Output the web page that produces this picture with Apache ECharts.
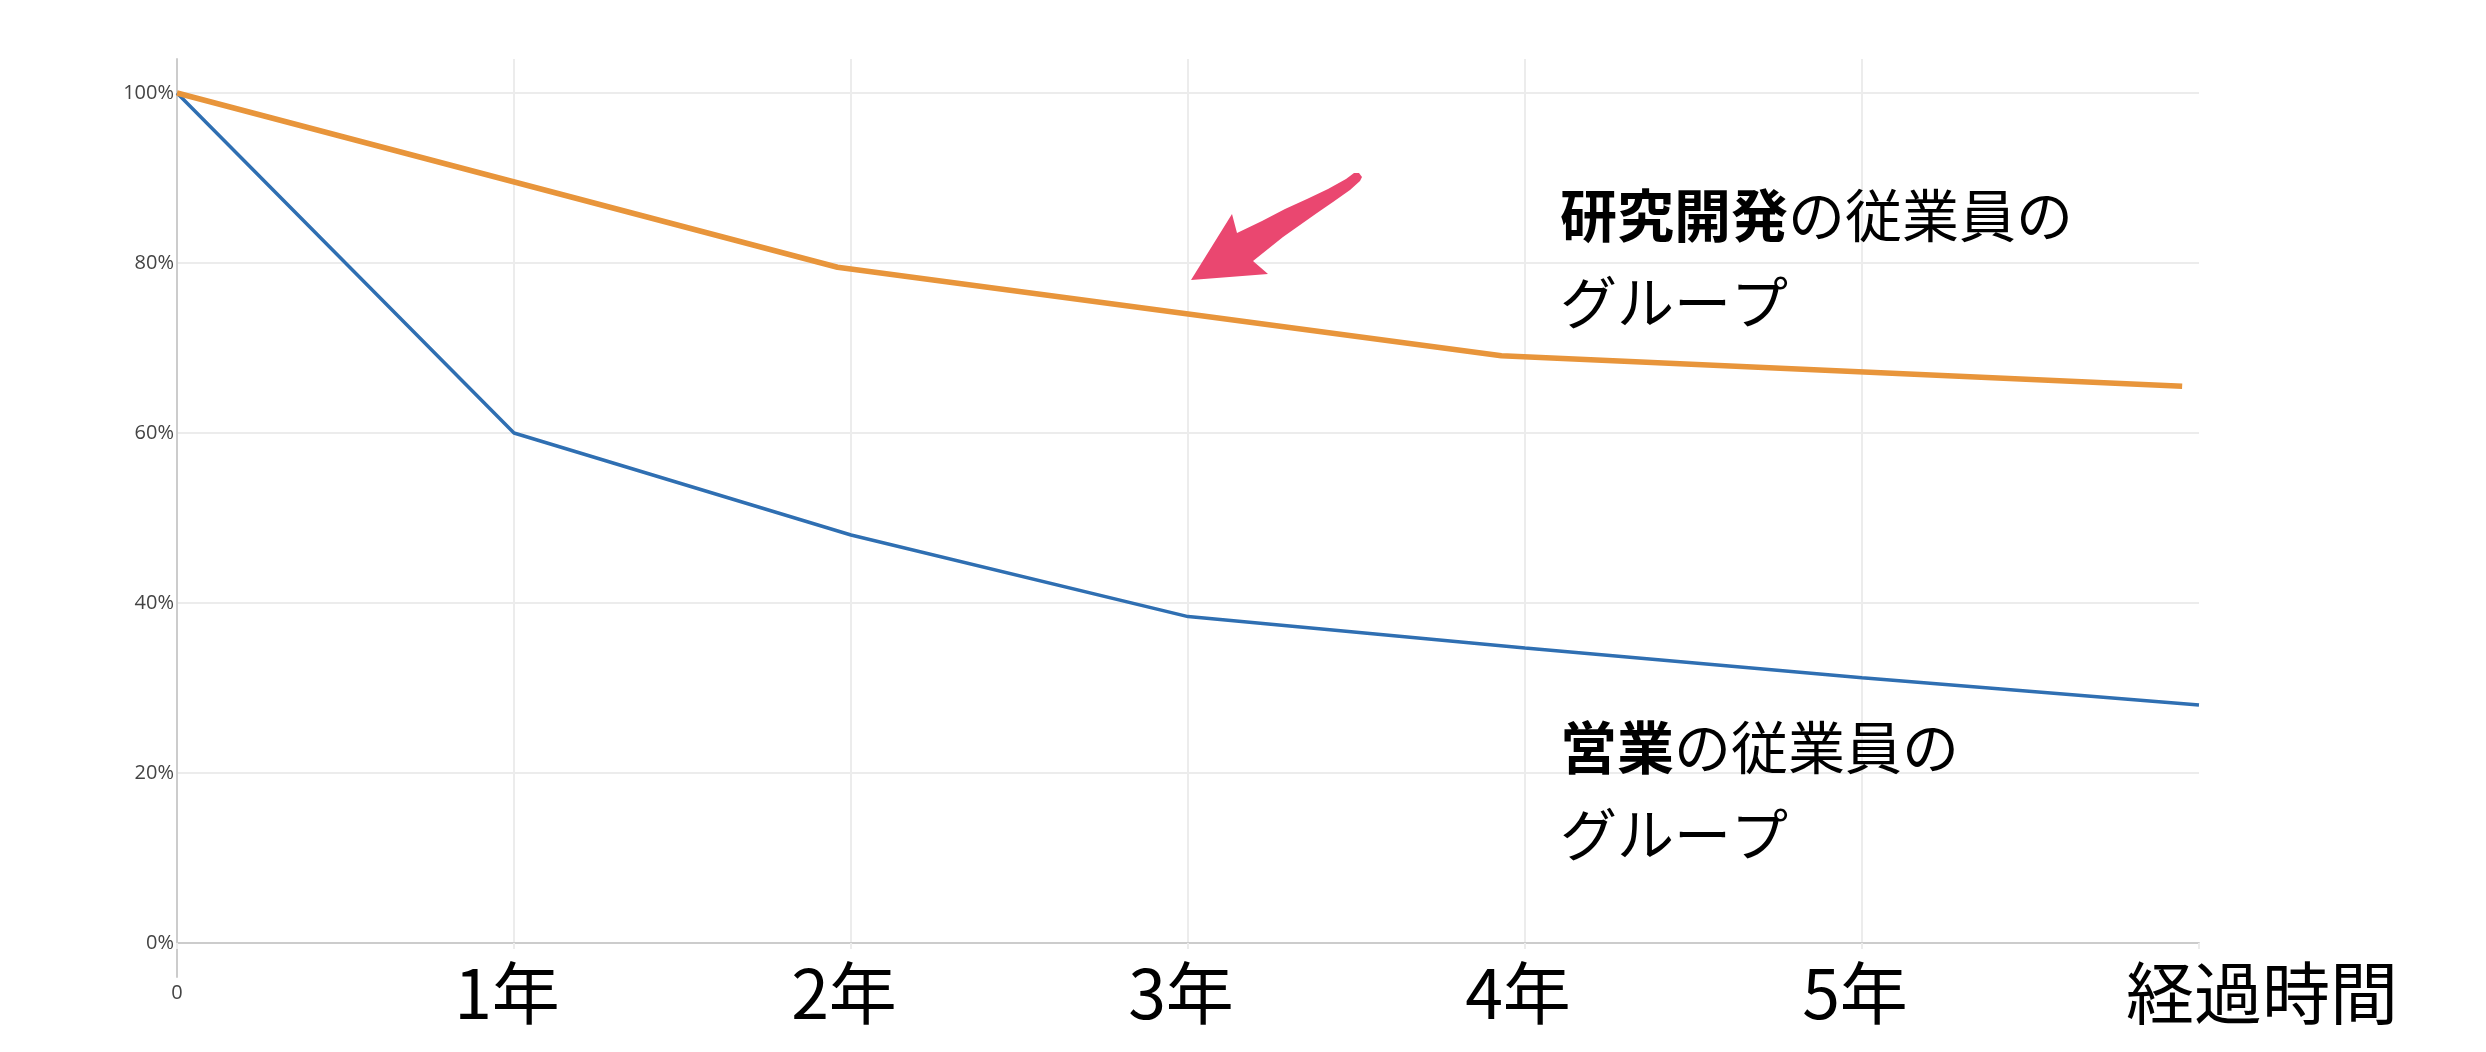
<!DOCTYPE html>
<html>
<head>
<meta charset="utf-8">
<script src="https://cdn.jsdelivr.net/npm/echarts@6/dist/echarts.min.js"></script>
<style>
html,body{margin:0;padding:0;background:#fff;}
#chart{width:2486px;height:1052px;}
</style>
</head>
<body>
<div id="chart"></div>
<script>
// ---- data ----
const xLabels = ['0', '1年', '2年', '3年', '4年', '5年', '経過時間'];
const rdX = [0, 1.96, 3.93, 5.95];
const rdY = [100, 79.5, 69.1, 65.5];
const salesX = [0, 1, 2, 3, 4, 5, 6];
const salesY = [100, 60, 48, 38.4, 34.7, 31.2, 28];
const rdLabel = ['研究開発', 'の従業員の', 'グループ'];
const salesLabel = ['営業', 'の従業員の', 'グループ'];

const CJK = '"Noto Sans CJK JP", "Noto Sans", sans-serif';
const chart = echarts.init(document.getElementById('chart'));

const rdData = rdX.map((x, i) => [x, rdY[i]]);
const salesData = salesX.map((x, i) => [x, salesY[i]]);

chart.setOption({
  animation: false,
  backgroundColor: '#ffffff',
  grid: [
    {left: 177, right: 287, top: 59, bottom: 109, containLabel: false},
    {left: 177, right: 287, top: 59, bottom: 75, containLabel: false}
  ],
  xAxis: [
    {
      type: 'value', gridIndex: 0, min: 0, max: 6, interval: 1,
      axisLine: {show: true, onZero: true, lineStyle: {color: '#cccccc', width: 2}},
      axisTick: {show: true, length: 6, lineStyle: {color: '#ececec', width: 2}},
      splitLine: {show: true, showMinLine: false, showMaxLine: false, lineStyle: {color: '#ececec', width: 2}},
      axisLabel: {
        margin: 10,
        formatter: function (v) {
          const i = Math.round(v);
          if (i === 0) return '{s|' + xLabels[i] + '}';
          if (i === xLabels.length - 1) return '{e|' + xLabels[i] + '}';
          return '{b|' + xLabels[i] + '}';
        },
        rich: {
          s: {fontSize: 20, color: '#444444', lineHeight: 80, fontFamily: '"Open Sans", sans-serif'},
          b: {fontSize: 68, color: '#000000', lineHeight: 80, fontFamily: CJK, padding: [0, 14, 0, 0]},
          e: {fontSize: 68, color: '#000000', lineHeight: 80, fontFamily: CJK, padding: [0, 0, 0, 126]}
        }
      }
    },
    {type: 'value', gridIndex: 1, min: 0, max: 1, show: false}
  ],
  yAxis: [
    {
      type: 'value', gridIndex: 0, min: 0, max: 104, minInterval: 20, maxInterval: 20,
      axisLine: {show: false},
      axisTick: {show: false},
      splitLine: {show: true, showMinLine: true, showMaxLine: false, lineStyle: {color: '#ececec', width: 2}},
      axisLabel: {
        margin: 3, showMaxLabel: false,
        formatter: function (v) { return v > 100 ? '' : v + '%'; },
        fontSize: 20, color: '#444444', fontFamily: '"Open Sans", sans-serif'
      }
    },
    {
      type: 'value', gridIndex: 1, min: 0, max: 1,
      axisLine: {show: true, lineStyle: {color: '#cccccc', width: 2}},
      axisTick: {show: false}, axisLabel: {show: false}, splitLine: {show: false}
    }
  ],
  series: [
    {
      name: '営業', type: 'line', xAxisIndex: 0, yAxisIndex: 0,
      data: salesData, showSymbol: false, symbol: 'none',
      lineStyle: {color: '#2f6fb2', width: 3.5}, z: 3
    },
    {
      name: '研究開発', type: 'line', xAxisIndex: 0, yAxisIndex: 0,
      data: rdData, showSymbol: false, symbol: 'none',
      lineStyle: {color: '#e8953b', width: 5.5}, z: 4
    }
  ],
  graphic: [
    {
      type: 'text', left: 1560, top: 187, z: 10,
      style: {
        text: '{b|' + rdLabel[0] + '}{n|' + rdLabel[1] + '}\n{n|' + rdLabel[2] + '}',
        rich: {
          b: {fontSize: 57, fontWeight: 'bold', fontFamily: CJK, fill: '#000', lineHeight: 87},
          n: {fontSize: 57, fontWeight: 'normal', fontFamily: CJK, fill: '#000', lineHeight: 87}
        }
      }
    },
    {
      type: 'text', left: 1560, top: 719, z: 10,
      style: {
        text: '{b|' + salesLabel[0] + '}{n|' + salesLabel[1] + '}\n{n|' + salesLabel[2] + '}',
        rich: {
          b: {fontSize: 57, fontWeight: 'bold', fontFamily: CJK, fill: '#000', lineHeight: 87},
          n: {fontSize: 57, fontWeight: 'normal', fontFamily: CJK, fill: '#000', lineHeight: 87}
        }
      }
    },
    {
      type: 'polygon', z: 10,
      shape: {
        points: [
          [1191, 280], [1232, 214], [1237, 233], [1262, 221], [1285, 209], [1307, 199],
          [1328, 189], [1346, 179], [1354, 173], [1359, 173], [1362, 177], [1360, 181],
          [1350, 190], [1333, 202], [1317, 213], [1300, 225], [1283, 237], [1268, 249],
          [1253, 261], [1268, 274]
        ],
        smooth: 0
      },
      style: {fill: '#ea4770'}
    }
  ]
});
</script>
</body>
</html>
